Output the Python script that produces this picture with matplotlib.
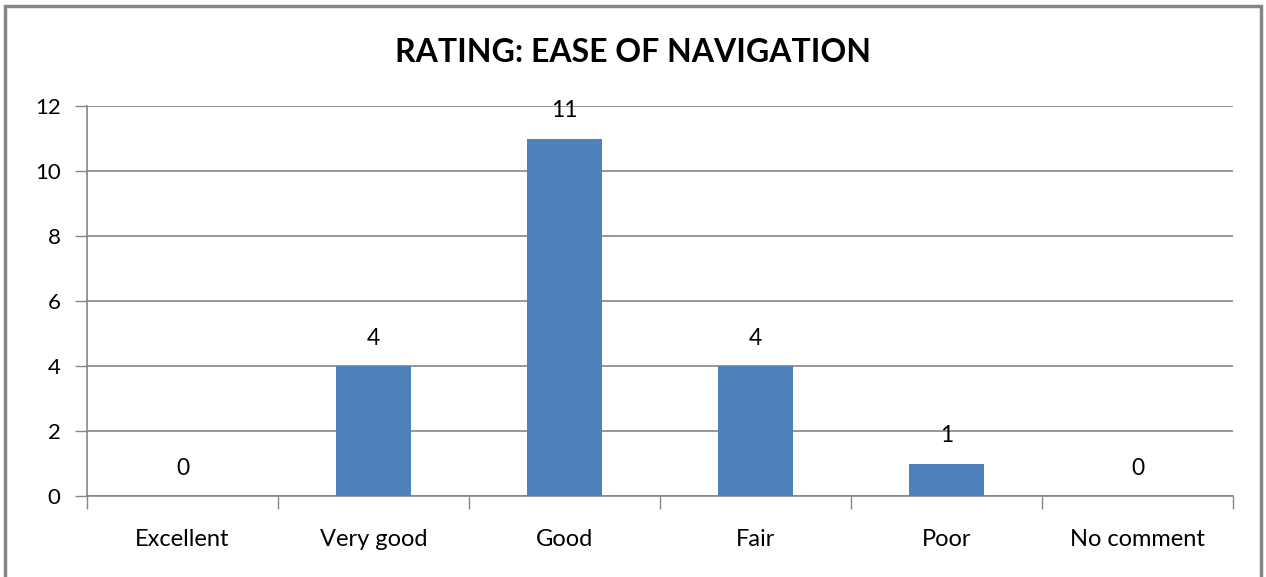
import matplotlib.pyplot as plt
from matplotlib.patches import Rectangle

# Datos del gráfico
categorias = ["Excellent", "Very good", "Good", "Fair", "Poor", "No comment"]
valores = [0, 4, 11, 4, 1, 0]
y_ticks = [0, 2, 4, 6, 8, 10, 12]

plt.rcParams['font.family'] = ['Lato', 'DejaVu Sans']

fig = plt.figure(figsize=(12.66, 5.77), dpi=100)
ax = fig.add_axes([87 / 1266, 1 - 496 / 577, (1233 - 87) / 1266, (496 - 106) / 577])

# Marco exterior gris
fig.patches.append(Rectangle((5 / 1266, -0.02), 1256 / 1266, 1 - 6 / 577 + 0.02,
                             transform=fig.transFigure, fill=False,
                             edgecolor='#868686', linewidth=2.5))

pos = range(len(categorias))
ax.bar(pos, valores, width=0.39, color='#4F81BD', zorder=3)

for x, v in zip(pos, valores):
    ax.annotate(str(v), (x, v), xytext=(0, 20), textcoords='offset points',
                ha='center', va='center', fontsize=16.5, color='black')

ax.set_xlim(-0.5, len(categorias) - 0.5)
ax.set_ylim(0, 12)
ax.set_yticks(y_ticks)
ax.yaxis.grid(True, color='#868686', linewidth=1.2, zorder=0)
ax.tick_params(axis='y', length=9, width=1, color='#868686', labelsize=16, pad=10)

# Marcas del eje x entre categorías
ax.set_xticks([i - 0.5 for i in range(len(categorias) + 1)])
ax.set_xticklabels([])
ax.set_xticks(list(pos), minor=True)
ax.set_xticklabels(categorias, minor=True)
ax.tick_params(axis='x', which='major', length=9, width=1, color='#868686')
ax.tick_params(axis='x', which='minor', length=0, labelsize=17, pad=24)

for lado in ['top', 'right']:
    ax.spines[lado].set_visible(False)
for lado in ['left', 'bottom']:
    ax.spines[lado].set_color('#868686')
    ax.spines[lado].set_linewidth(1.2)

fig.text(0.5, 1 - 53 / 577, "RATING: EASE OF NAVIGATION", ha='center', va='center',
         fontsize=23, fontweight='bold')

fig.savefig("out.png", dpi=100)
